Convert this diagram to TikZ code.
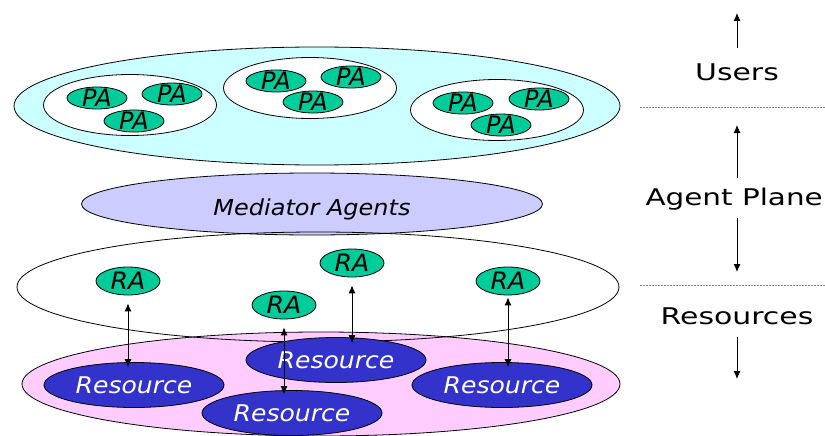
\documentclass[tikz,border=0pt]{standalone}
\usepackage{fontspec}
\setmainfont{DejaVu Sans}
\usetikzlibrary{shapes.geometric,arrows.meta}
\definecolor{userfill}{HTML}{CCFFFF}
\definecolor{pagreen}{HTML}{00CC99}
\definecolor{medfill}{HTML}{CCCCFF}
\definecolor{resbg}{HTML}{FFCCFF}
\definecolor{resblue}{HTML}{3333CC}
\definecolor{sepgray}{HTML}{808080}
\newcommand{\wideA}[1]{\scalebox{1.3}[1]{#1}}
\newcommand{\wideB}[1]{\scalebox{1.09}[1]{#1}}
\begin{document}
\begin{tikzpicture}[x=1pt,y=-1pt,
  outline/.style={ellipse, draw=black, line width=0.8pt, inner sep=0pt},
  pa/.style={outline, fill=pagreen, minimum width=60pt, minimum height=22pt,
    label={[font=\fontsize{24}{24}\selectfont\itshape, text=black, inner sep=0pt]center:PA}},
  ra/.style={outline, fill=pagreen, minimum width=64pt, minimum height=28pt,
    label={[font=\fontsize{24}{24}\selectfont\itshape, text=black, inner sep=0pt]center:\scalebox{1.05}[1]{RA}}},
  resnode/.style={outline, fill=resblue, minimum width=180pt, minimum height=45pt,
    label={[font=\fontsize{23}{23}\selectfont\itshape, text=white, inner sep=0pt]center:\wideB{Resource}}},
  group/.style={outline, fill=white, minimum width=173pt, minimum height=61pt},
  biarrow/.style={{Latex[length=8pt,width=7pt]}-{Latex[length=8pt,width=7pt]}, line width=0.9pt},
  sidearrow/.style={-{Latex[length=8pt,width=7pt]}, line width=0.9pt},
  sepline/.style={draw=sepgray, line width=0.9pt, dash pattern=on 2pt off 1pt},
  sidelabel/.style={font=\fontsize{23}{23}\selectfont, inner sep=0pt, anchor=base}
]
\useasboundingbox (0,0) rectangle (825,436);

% Users plane
\node[outline, fill=userfill, minimum width=606pt, minimum height=118pt] (users) at (317,106) {};
\node[group] (g1) at (130,105) {};
\node[group] (g2) at (310,88) {};
\node[group] (g3) at (497,110) {};
\node[pa] (pa11) at (97,98) {};
\node[pa] (pa12) at (172,94) {};
\node[pa] (pa13) at (134,121) {};
\node[pa] (pa21) at (276,81) {};
\node[pa] (pa22) at (351,77) {};
\node[pa] (pa23) at (313,102) {};
\node[pa] (pa31) at (463,103) {};
\node[pa] (pa32) at (539,99) {};
\node[pa] (pa33) at (501,125) {};

% Mediator
\node[outline, fill=medfill, minimum width=461pt, minimum height=62pt] (med) at (312,204) {};
\node[font=\fontsize{22}{22}\selectfont\itshape, inner sep=0pt, anchor=base] (medtext) at (312,215) {\wideB{Mediator Agents}};

% Resource plane
\node[outline, fill=resbg, minimum width=598pt, minimum height=104pt] (resplane) at (321,384) {};
\node[outline, minimum width=602pt, minimum height=110pt] (raplane) at (318,287) {};

\node[resnode] (res1) at (134,385) {};
\node[resnode] (res2) at (336,360) {};
\node[resnode] (res4) at (502,385) {};
\node[resnode] (res3) at (292,413) {};

\node[ra] (ra1) at (128,281) {};
\node[ra] (ra2) at (284,305) {};
\node[ra] (ra3) at (352,263) {};
\node[ra] (ra4) at (508,281) {};

\draw[biarrow, shorten <=8pt, shorten >=-5pt] (ra1.south) -- (ra1.south |- res1.north);
\draw[biarrow, shorten <=8pt, shorten >=-4pt] (ra2.south) -- (ra2.south |- res3.north);
\draw[biarrow, shorten <=8pt, shorten >=-6pt] (ra3.south) -- (ra3.south |- res2.north);
\draw[biarrow, shorten <=2pt, shorten >=-5pt] (ra4.south) -- (ra4.south |- res4.north);

% Side legend
\node[sidelabel] (lusers) at (737,81) {\wideA{Users}};
\node[sidelabel, anchor=base east] (lagent) at (823,205) {\scalebox{1.28}[1]{Agent Plane}};
\node[sidelabel] (lres) at (737,324) {\wideA{Resources}};

\coordinate (a1s) at (737,48);  \coordinate (a1e) at (737,13);
\coordinate (a2s) at (737,178); \coordinate (a2e) at (737,125);
\coordinate (a3s) at (737,218); \coordinate (a3e) at (737,272);
\coordinate (a4s) at (737,337); \coordinate (a4e) at (737,379);
\draw[sidearrow] (a1s) -- (a1e);
\draw[sidearrow] (a2s) -- (a2e);
\draw[sidearrow] (a3s) -- (a3e);
\draw[sidearrow] (a4s) -- (a4e);

\coordinate (s1a) at (640,107); \coordinate (s1b) at (825,107);
\coordinate (s2a) at (640,285); \coordinate (s2b) at (825,285);
\draw[sepline] (s1a) -- (s1b);
\draw[sepline] (s2a) -- (s2b);
\end{tikzpicture}
\end{document}
